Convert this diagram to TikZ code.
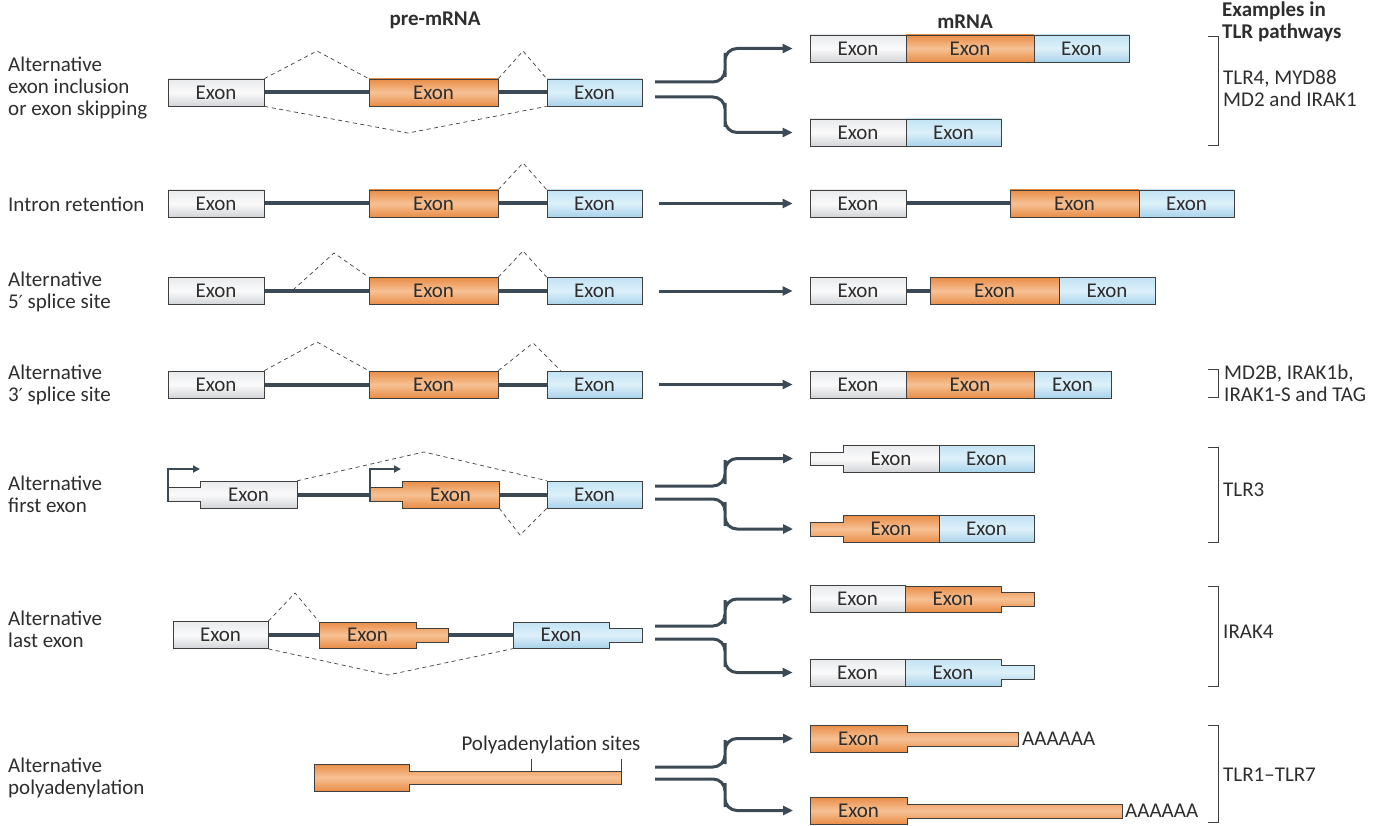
\documentclass[tikz,border=0pt]{standalone}
\usepackage{fontspec}
\setmainfont{Carlito}
\newfontfamily\primefont{DejaVu Sans}
\usetikzlibrary{arrows.meta,backgrounds}

\definecolor{slate}{HTML}{3B4A54}
\definecolor{edge}{HTML}{3F3F3F}
\definecolor{ink}{HTML}{2E2E2E}
\definecolor{wtop}{HTML}{E8EAEC}
\definecolor{wmid}{HTML}{FAFAFB}
\definecolor{wbot}{HTML}{D2D5D8}
\definecolor{otop}{HTML}{E98D48}
\definecolor{omid}{HTML}{F7C194}
\definecolor{btop}{HTML}{C2E3F4}
\definecolor{bmid}{HTML}{DDF0FA}
\definecolor{bbot}{HTML}{A9D3EA}

\tikzstyle{wfill}=[draw=edge, line width=0.8pt, top color=wtop, bottom color=wbot, middle color=wmid]
\tikzstyle{ofill}=[draw=edge, line width=0.8pt, top color=otop, bottom color=otop, middle color=omid]
\tikzstyle{bfill}=[draw=edge, line width=0.8pt, top color=btop, bottom color=bbot, middle color=bmid]
\tikzstyle{exontext}=[rectangle, minimum height=27pt, minimum width=97pt, inner sep=0, text=ink, font=\fontsize{21}{22}\selectfont]
\tikzstyle{wexon}=[exontext, wfill, minimum width=96pt]
\tikzstyle{oexon}=[exontext, ofill, minimum width=129pt]
\tikzstyle{bexon}=[exontext, bfill, minimum width=95pt]
\tikzstyle{side}=[anchor=west, align=left, inner sep=0, text=ink, font=\fontsize{21}{22}\selectfont]
\tikzstyle{head}=[inner sep=0, text=ink, font=\fontsize{21}{22}\selectfont\bfseries]
\tikzstyle{introns}=[draw=slate, line width=4pt]
\tikzstyle{splice}=[draw=edge, line width=0.7pt, dash pattern=on 4pt off 3.5pt]
\tikzstyle{fork}=[draw=slate, line width=3pt, rounded corners=12pt, -{Triangle[length=10pt,width=9pt]}]
\tikzstyle{straight}=[draw=slate, line width=3pt, -{Triangle[length=10pt,width=9pt]}]
\tikzstyle{tss}=[draw=slate, line width=2pt, -{Triangle[length=7pt,width=7pt]}]
\tikzstyle{brace}=[draw=edge, line width=1pt]
\tikzstyle{tick}=[draw=edge, line width=1pt]

\begin{document}
\begin{tikzpicture}[x=1pt, y=-1pt]
\useasboundingbox (0,0) rectangle (1388,826);

\node [head] (pre) at (435,20) {pre-mRNA};
\node [head] (post) at (965,22) {mRNA};
\node [head, anchor=west, align=left] (examples) at (1222,22) {Examples in\\TLR pathways};

\node [side] (lab1) at (8,88) {Alternative\\exon inclusion\\or exon skipping};
\node [side] (lab2) at (8,204) {Intron retention};
\node [side] (lab3) at (8,292) {Alternative\\5{\primefont\fontsize{18}{22}\selectfont ′} splice site};
\node [side] (lab4) at (8,385) {Alternative\\3{\primefont\fontsize{18}{22}\selectfont ′} splice site};
\node [side] (lab5) at (8,494.5) {Alternative\\first exon};
\node [side] (lab6) at (8,629) {Alternative\\last exon};
\node [side] (lab7) at (8,778) {Alternative\\polyadenylation};

% pre-mRNA
\node [wexon] (a1) at (216,92.5) {Exon};
\node [oexon] (b1) at (433.5,92.5) {Exon};
\node [bexon] (c1) at (594.5,92.5) {Exon};

\node [wexon] (a2) at (216,203.5) {Exon};
\node [oexon] (b2) at (433.5,203.5) {Exon};
\node [bexon] (c2) at (594.5,203.5) {Exon};

\node [wexon] (a3) at (216,291) {Exon};
\node [oexon] (b3) at (433.5,291) {Exon};
\node [bexon] (c3) at (594.5,291) {Exon};

\node [wexon] (a4) at (216,384.5) {Exon};
\node [oexon] (b4) at (433.5,384.5) {Exon};
\node [bexon] (c4) at (594.5,384.5) {Exon};

\draw [wfill] (168,487.5) -- (200,487.5) -- (200,481) -- (297,481) -- (297,508) -- (200,508) -- (200,501.5) -- (168,501.5) -- cycle;
\node [exontext] (a5) at (248.5,494.5) {Exon};
\draw [ofill] (370,487.5) -- (402,487.5) -- (402,481) -- (499,481) -- (499,508) -- (402,508) -- (402,501.5) -- (370,501.5) -- cycle;
\node [exontext] (b5) at (450.5,494.5) {Exon};
\node [bexon] (c5) at (594.5,494.5) {Exon};
\coordinate (p5a) at (168,501.5);
\coordinate (p5b) at (370,501.5);
\draw [tss] (p5a) |- (200,469);
\draw [tss] (p5b) |- (401,469);

\node [wexon, minimum width=95pt] (a6) at (220.5,635) {Exon};
\draw [ofill] (319,622) -- (416,622) -- (416,628) -- (448,628) -- (448,642) -- (416,642) -- (416,648) -- (319,648) -- cycle;
\node [exontext] (b6) at (367.5,635) {Exon};
\draw [bfill] (513,622) -- (609,622) -- (609,628) -- (642,628) -- (642,642) -- (609,642) -- (609,648) -- (513,648) -- cycle;
\node [exontext, minimum width=96pt] (c6) at (561,635) {Exon};

\draw [ofill] (314,764) -- (409,764) -- (409,771) -- (621,771) -- (621,784) -- (409,784) -- (409,791) -- (314,791) -- cycle;
\node [exontext, anchor=center] (pas) at (551,745) {Polyadenylation sites};
\coordinate (pa1) at (531,771);
\coordinate (pa2) at (621,771);
\draw [tick] (pa1) -- (pa1 |- pas.south);
\draw [tick] (pa2) -- (pa2 |- pas.south);

\begin{scope}[on background layer]
\draw [introns] (a1.east) -- (b1.west);
\draw [introns] (b1.east) -- (c1.west);
\draw [introns] (a2.east) -- (b2.west);
\draw [introns] (b2.east) -- (c2.west);
\draw [introns] (a3.east) -- (b3.west);
\draw [introns] (b3.east) -- (c3.west);
\draw [introns] (a4.east) -- (b4.west);
\draw [introns] (b4.east) -- (c4.west);
\draw [introns] (a5.east) -- (b5.west);
\draw [introns] (b5.east) -- (c5.west);
\draw [introns] (a6.east) -- (b6.west);
\draw [introns] (b6.east) -- (c6.west);
\end{scope}

\draw [splice] (a1.north east) -- (317,51) -- (b1.north west);
\draw [splice] (b1.north east) -- (523,51) -- (c1.north west);
\draw [splice] (a1.south east) -- (408,133) -- (c1.south west);
\draw [splice] (b2.north east) -- (523,163) -- (c2.north west);
\coordinate (s3) at (293,290);
\draw [splice] (s3) -- (334,253) -- (b3.north west);
\draw [splice] (b3.north east) -- (523,251) -- (c3.north west);
\draw [splice] (a4.north east) -- (317,342) -- (b4.north west);
\draw [splice] (b4.north east) -- (533,343) -- ([xshift=14pt]c4.north west);
\draw [splice] (a5.north east) -- (424,452) -- (c5.north west);
\draw [splice] (b5.south east) -- (520,535) -- (c5.south west);
\draw [splice] (a6.north east) -- (295,593) -- (b6.north west);
\draw [splice] (a6.south east) -- (388,675) -- (c6.south west);

% mRNA
\node [wexon] (ma1) at (858,48.5) {Exon};
\node [oexon, minimum width=128pt] (mb1) at (970,48.5) {Exon};
\node [bexon] (mc1) at (1081.5,48.5) {Exon};
\node [wexon] (md1) at (858,132.5) {Exon};
\node [bexon] (me1) at (953.5,132.5) {Exon};

\node [wexon] (ma2) at (858,203.5) {Exon};
\node [oexon] (mb2) at (1074.5,203.5) {Exon};
\node [bexon] (mc2) at (1186.5,203.5) {Exon};

\node [wexon] (ma3) at (858,291) {Exon};
\node [oexon] (mb3) at (994.5,291) {Exon};
\node [bexon, minimum width=96pt] (mc3) at (1107,291) {Exon};

\node [wexon] (ma4) at (858,384.5) {Exon};
\node [oexon, minimum width=128pt] (mb4) at (970,384.5) {Exon};
\node [bexon, minimum width=77pt] (mc4) at (1072.5,384.5) {Exon};

\draw [wfill] (810,452) -- (843,452) -- (843,445) -- (939,445) -- (939,472) -- (843,472) -- (843,465) -- (810,465) -- cycle;
\node [exontext, minimum width=96pt] (ma5) at (891,458.5) {Exon};
\node [bexon] (mb5) at (986.5,458.5) {Exon};
\draw [ofill] (810,522) -- (843,522) -- (843,515.5) -- (939,515.5) -- (939,542.5) -- (843,542.5) -- (843,536) -- (810,536) -- cycle;
\node [exontext, minimum width=96pt] (md5) at (891,529) {Exon};
\node [bexon] (me5) at (986.5,529) {Exon};
\coordinate (t5a) at (810,458.5);
\coordinate (t5b) at (810,529);

\node [wexon, minimum width=95pt] (ma6) at (857.5,599) {Exon};
\draw [ofill] (905,586) -- (1001,586) -- (1001,592) -- (1034,592) -- (1034,606) -- (1001,606) -- (1001,612) -- (905,612) -- cycle;
\node [exontext, minimum width=96pt] (mb6) at (953,599) {Exon};
\node [wexon, minimum width=95pt] (md6) at (857.5,672.5) {Exon};
\draw [bfill] (905,659) -- (1001,659) -- (1001,665.5) -- (1034,665.5) -- (1034,679.5) -- (1001,679.5) -- (1001,686) -- (905,686) -- cycle;
\node [exontext, minimum width=96pt] (me6) at (953,672.5) {Exon};

\draw [ofill] (810,725) -- (907,725) -- (907,732) -- (1018,732) -- (1018,746) -- (907,746) -- (907,752) -- (810,752) -- cycle;
\node [exontext] (ma7) at (858.5,738.5) {Exon};
\node [side] (pa7) at (1022,739) {AAAAAA};
\draw [ofill] (810,797) -- (907,797) -- (907,804) -- (1122,804) -- (1122,818) -- (907,818) -- (907,824) -- (810,824) -- cycle;
\node [exontext] (md7) at (858.5,810.5) {Exon};
\node [side] (pb7) at (1125,811) {AAAAAA};
\coordinate (t7a) at (810,738.5);
\coordinate (t7b) at (810,810.5);

\begin{scope}[on background layer]
\draw [introns] (ma2.east) -- (mb2.west);
\draw [introns] (ma3.east) -- (mb3.west);
\end{scope}

% arrows
\coordinate (up1) at (655,82);
\coordinate (lo1) at (655,97);
\draw [fork] (up1) -| (725,65) |- ([xshift=-17pt]ma1.west);
\draw [fork] (lo1) -| (725,115) |- ([xshift=-17pt]md1.west);
\draw [straight] ([xshift=17pt]c2.east) -- ([xshift=-17pt]ma2.west);
\draw [straight] ([xshift=17pt]c3.east) -- ([xshift=-17pt]ma3.west);
\draw [straight] ([xshift=17pt]c4.east) -- ([xshift=-17pt]ma4.west);
\coordinate (up5) at (655,486);
\coordinate (lo5) at (655,499);
\draw [fork] (up5) -| (725,472) |- ([xshift=-17pt]t5a);
\draw [fork] (lo5) -| (725,514) |- ([xshift=-17pt]t5b);
\coordinate (up6) at (655,626);
\coordinate (lo6) at (655,639);
\draw [fork] (up6) -| (725,612) |- ([xshift=-17pt]ma6.west);
\draw [fork] (lo6) -| (725,655) |- ([xshift=-17pt]md6.west);
\coordinate (up7) at (655,767);
\coordinate (lo7) at (655,779);
\draw [fork] (up7) -| (725,752) |- ([xshift=-17pt]t7a);
\draw [fork] (lo7) -| (725,795) |- ([xshift=-17pt]t7b);

% examples
\draw [brace] (1208,37) -- (1218,37) -- (1218,146) -- (1208,146);
\node [side] (ex1) at (1223,88) {TLR4, MYD88\\MD2 and IRAK1};
\draw [brace] (1208,369) -- (1218,369) -- (1218,397) -- (1208,397);
\node [side] (ex4) at (1224,383) {MD2B, IRAK1b,\\IRAK1-S and TAG};
\draw [brace] (1208,447) -- (1218,447) -- (1218,542) -- (1208,542);
\node [side] (ex5) at (1223,490) {TLR3};
\draw [brace] (1208,586) -- (1218,586) -- (1218,686) -- (1208,686);
\node [side] (ex6) at (1223,632) {IRAK4};
\draw [brace] (1208,725) -- (1218,725) -- (1218,822) -- (1208,822);
\node [side] (ex7) at (1223,775) {TLR1–TLR7};

\end{tikzpicture}
\end{document}
